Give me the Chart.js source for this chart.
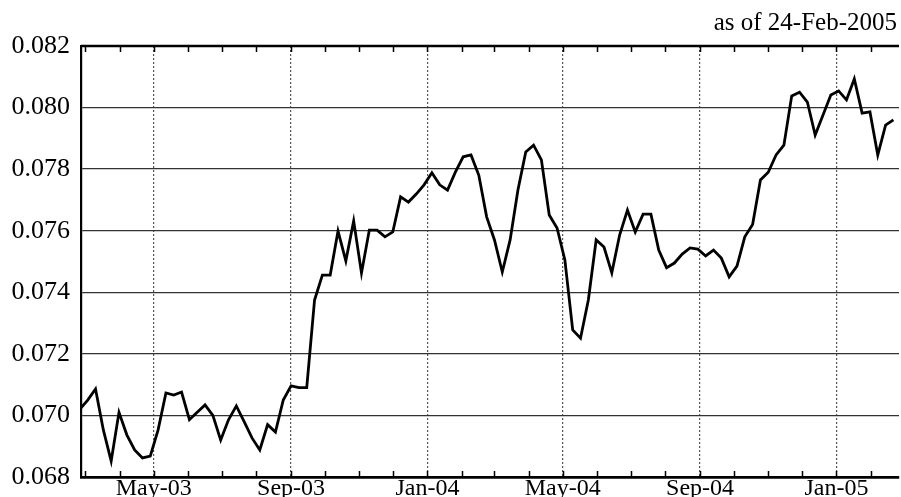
<!DOCTYPE html>
<html>
<head>
<meta charset="utf-8">
<script src="https://cdn.jsdelivr.net/npm/chart.js@4.4.1/dist/chart.umd.min.js"></script>
<style>
  html, body { margin: 0; padding: 0; background: #fff; }
  canvas { display: block; }
</style>
</head>
<body>
<canvas id="c" width="901" height="497"></canvas>
<script>
// ---- data (weekly observations starting 24-Feb-2003) ----
const startDate = '2003-02-24';
const asOfText = 'as of 24-Feb-2005';
const values = [
  0.0702, 0.0705, 0.07086, 0.06953, 0.06852, 0.0701, 0.06937, 0.06888, 0.06862, 0.06868,
  0.06953, 0.07073, 0.07066, 0.07076, 0.06986, 0.0701, 0.07034, 0.0700, 0.0692, 0.06986,
  0.07031, 0.0698, 0.06927, 0.06888, 0.0697, 0.06946, 0.0705, 0.07096, 0.0709, 0.0709,
  0.07375, 0.07456, 0.07456, 0.07599, 0.07502, 0.07632, 0.07463, 0.07602, 0.07602, 0.0758,
  0.07596, 0.0771, 0.07693, 0.07719, 0.07749, 0.07788, 0.07749, 0.07732, 0.0779, 0.0784,
  0.07846, 0.0778, 0.07645, 0.0757, 0.07466, 0.0757, 0.07732, 0.07856, 0.07878, 0.0783,
  0.07651, 0.07609, 0.07505, 0.07278, 0.07251, 0.07375, 0.0757, 0.07547, 0.07463, 0.07586,
  0.07667, 0.07596, 0.07654, 0.07654, 0.07537, 0.0748, 0.07495, 0.07524, 0.07544, 0.0754,
  0.07518, 0.07537, 0.07511, 0.0745, 0.07485, 0.0758, 0.0762, 0.07765, 0.0779, 0.07846,
  0.07878, 0.08038, 0.0805, 0.08018, 0.07911, 0.07976, 0.08041, 0.08054, 0.08025, 0.08093,
  0.07982, 0.07986, 0.07846, 0.07943, 0.0796
];
const tickLabels = ['May-03', 'Sep-03', 'Jan-04', 'May-04', 'Sep-04', 'Jan-05'];
const tickDates  = ['2003-05-01', '2003-09-01', '2004-01-01', '2004-05-01', '2004-09-01', '2005-01-01'];
const yMin = 0.068, yMax = 0.082, yStep = 0.002;
const axisStart = '2003-02-25', axisEnd = '2005-02-26';

// ---- helpers ----
const DAY = 86400000;
const t0 = Date.UTC(2003, 1, 24);
function dayOf(s) { const p = s.split('-').map(Number); return (Date.UTC(p[0], p[1] - 1, p[2]) - t0) / DAY; }
const startDay = dayOf(startDate);
const points = values.map((v, i) => ({ x: startDay + i * 7, y: v }));
const tickDays = tickDates.map(dayOf);
const monthDays = [];
for (let y = 2003, m = 2; y < 2005 || (y === 2005 && m <= 1); ) {
  monthDays.push((Date.UTC(y, m, 1) - t0) / DAY);
  m++; if (m > 11) { m = 0; y++; }
}
const FONT = '"Liberation Serif", "Times New Roman", serif';

const framePlugin = {
  id: 'frame',
  afterDraw(chart) {
    const { ctx, chartArea: a, scales } = chart;
    ctx.save();
    ctx.strokeStyle = '#000';
    ctx.lineWidth = 2.5;
    ctx.beginPath();
    ctx.moveTo(a.left, a.top); ctx.lineTo(a.right, a.top);
    ctx.stroke();
    ctx.lineWidth = 1.5;
    ctx.beginPath();
    monthDays.forEach(d => {
      const px = Math.round(scales.x.getPixelForValue(d)) + 0.5;
      if (px < a.left || px > a.right) return;
      ctx.moveTo(px, a.top); ctx.lineTo(px, a.top + 6);
      ctx.moveTo(px, a.bottom); ctx.lineTo(px, a.bottom - 6);
    });
    ctx.stroke();
    ctx.fillStyle = '#000';
    ctx.font = '25px ' + FONT;
    ctx.textAlign = 'right';
    ctx.textBaseline = 'alphabetic';
    ctx.fillText(asOfText, a.right - 2, a.top - 16);
    ctx.restore();
  }
};

new Chart(document.getElementById('c'), {
  type: 'line',
  data: { datasets: [{ data: points, borderColor: '#000', borderWidth: 2.8, pointRadius: 0, tension: 0, fill: false }] },
  options: {
    responsive: false,
    animation: false,
    devicePixelRatio: 1,
    layout: { padding: { top: 46, right: 2, left: 0, bottom: 0 } },
    plugins: { legend: { display: false }, tooltip: { enabled: false }, title: { display: false } },
    scales: {
      x: {
        type: 'linear',
        min: dayOf(axisStart),
        max: dayOf(axisEnd),
        afterBuildTicks(scale) { scale.ticks = tickDays.map(v => ({ value: v })); },
        afterFit(scale) { scale.height = 20; },
        ticks: { autoSkip: false, maxRotation: 0, padding: -3, color: '#000', font: { family: FONT, size: 24 },
          callback(v) { const i = tickDays.indexOf(v); return i >= 0 ? tickLabels[i] : ''; } },
        grid: { color: '#555', lineWidth: 1.2, drawTicks: false },
        border: { color: '#000', width: 2.8, dash: [2, 2] }
      },
      y: {
        min: yMin, max: yMax,
        afterFit(scale) { scale.width = 81; },
        ticks: { stepSize: yStep, padding: 11, color: '#000', font: { family: FONT, size: 26, lineHeight: 0.6 },
          callback(v) { return Number(v).toFixed(3); } },
        grid: { color: '#333', lineWidth: 1.3, drawTicks: false },
        border: { color: '#000', width: 2.2 }
      }
    }
  },
  plugins: [framePlugin]
});
</script>
</body>
</html>
